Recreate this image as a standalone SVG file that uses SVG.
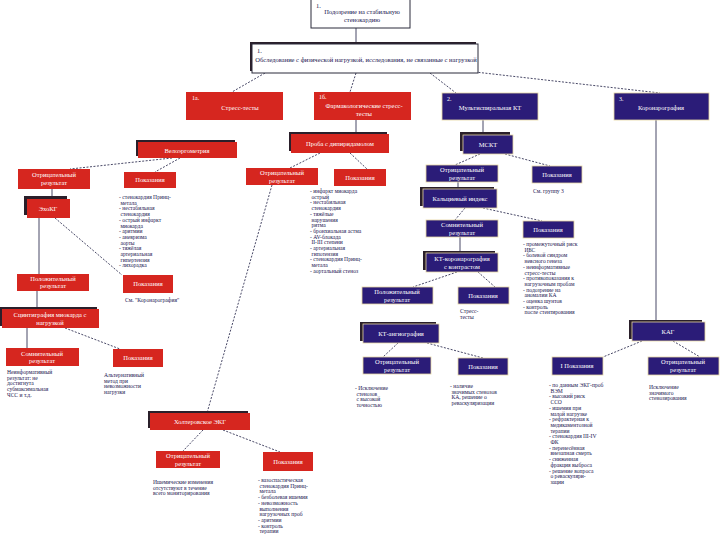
<svg xmlns="http://www.w3.org/2000/svg" width="720" height="540" viewBox="0 0 720 540">
<style>
.r{fill:#d6261f}
.b{fill:#2b1c78;stroke:#e6d6a0;stroke-width:0.8}
.w{fill:#fff;stroke:#2a2a3a;stroke-width:1}
.sh{fill:#2a1f2a}
.t{font-family:"Liberation Serif",serif;font-size:6.5px;fill:#fff;text-anchor:middle}
.tn{font-family:"Liberation Serif",serif;font-size:6px;fill:#fff}
.td{font-family:"Liberation Serif",serif;font-size:6.5px;fill:#1a1650;text-anchor:middle}
.l{font-family:"Liberation Serif",serif;font-size:5.6px;fill:#1a1650}
.c{stroke:#1a1a40;stroke-width:0.8;fill:none}
.d{stroke-dasharray:2 1.5}
</style>
<rect width="720" height="540" fill="#fff"/>
<g id="connectors">
<path class="c" d="M356 28V44M356 120V134M483 120V135M458 182V189M52 189V199M39 218V274M37 291V309M27 328V348M460 237V253M656 120V322"/>
<path class="c d" d="M265 73L232 92M356 73L350 92M430 73L456 93M475 72L660 93M172 158L70 169M180 158L155 172M55 218L122 275M65 328L120 349M320 153L290 168M350 153L367 169M272 185L207 413M203 430L183 451M223 430L280 452M480 154L455 165M505 154L550 166M465 208L455 220M483 208L542 221M457 272L413 287M478 272L495 287M398 343L383 357M427 343L483 358M642 341L603 357M673 341L700 357"/>
</g>
<g id="n1"><rect class="w" x="311" y="-1" width="99" height="29"/><text class="td" x="316" y="8" style="text-anchor:start">1.</text><text class="td" x="362" y="14">Подозрение на стабильную</text><text class="td" x="362" y="22">стенокардию</text></g>
<g id="n2"><rect class="sh" x="250" y="42" width="226" height="29"/><rect class="w" x="252" y="44" width="226" height="29"/><text class="td" x="257" y="53" style="text-anchor:start">1.</text><text class="td" x="366" y="62">Обследование с физической нагрузкой, исследования, не связанные с нагрузкой</text></g>
<g id="n3"><rect class="r" x="186" y="92" width="97" height="28"/><text class="tn" x="192" y="100">1а.</text><text class="t" x="240" y="110">Стресс-тесты</text></g>
<g id="n4"><rect class="r" x="314" y="92" width="97" height="28"/><text class="tn" x="319" y="99">1б.</text><text class="t" x="364" y="108">Фармакологические стресс-</text><text class="t" x="364" y="116">тесты</text></g>
<g id="n5"><rect class="b" x="442" y="93" width="96" height="27"/><text class="tn" x="447" y="101">2.</text><text class="t" x="490" y="110">Мультиспиральная КТ</text></g>
<g id="n6"><rect class="b" x="614" y="93" width="95" height="27"/><text class="tn" x="619" y="101">3.</text><text class="t" x="661" y="110">Коронарография</text></g>
<g id="n7"><rect class="sh" x="136" y="140" width="99" height="16"/><rect class="r" x="138" y="142" width="99" height="16"/><text class="t" x="187" y="152.5">Велоэргометрия</text></g>
<g id="n8"><rect class="r" x="18" y="169" width="72" height="20"/><text class="t" x="54" y="177">Отрицательный</text><text class="t" x="54" y="185">результат</text></g>
<g id="n9"><rect class="r" x="124" y="172" width="52" height="16"/><text class="t" x="150" y="182">Показания</text></g>
<g id="n10"><rect class="sh" x="24" y="196" width="43" height="19"/><rect class="r" x="27" y="199" width="43" height="19"/><text class="t" x="48" y="211">ЭхоКГ</text></g>
<g id="n11"><rect class="r" x="17" y="274" width="72" height="17"/><text class="t" x="53" y="281">Положительный</text><text class="t" x="53" y="288">результат</text></g>
<g id="n12"><rect class="r" x="123" y="275" width="50" height="18"/><text class="t" x="148" y="286">Показания</text></g>
<g id="n13"><rect class="sh" x="0" y="307" width="97" height="19"/><rect class="r" x="2" y="309" width="97" height="19"/><text class="t" x="50" y="317">Сцинтиграфия миокарда с</text><text class="t" x="50" y="325">нагрузкой</text></g>
<g id="n14"><rect class="r" x="6" y="348" width="73" height="18"/><text class="t" x="42" y="355.5">Сомнительный</text><text class="t" x="42" y="363">результат</text></g>
<g id="n15"><rect class="r" x="113" y="349" width="50" height="18"/><text class="t" x="138" y="360">Показания</text></g>
<g id="n16"><rect class="sh" x="289" y="132" width="98" height="19"/><rect class="r" x="291" y="134" width="98" height="19"/><text class="t" x="340" y="146">Проба с дипиридамолом</text></g>
<g id="n17"><rect class="r" x="246" y="168" width="72" height="17"/><text class="t" x="282" y="175">Отрицательный</text><text class="t" x="282" y="182.5">результат</text></g>
<g id="n18"><rect class="r" x="334" y="169" width="52" height="17"/><text class="t" x="360" y="179.5">Показания</text></g>
<g id="n19"><rect class="sh" x="148" y="411" width="100" height="17"/><rect class="r" x="150" y="413" width="100" height="17"/><text class="t" x="200" y="424">Холтеровское ЭКГ</text></g>
<g id="n20"><rect class="r" x="156" y="451" width="64" height="17"/><text class="t" x="188" y="458">Отрицательный</text><text class="t" x="188" y="465.5">результат</text></g>
<g id="n21"><rect class="r" x="263" y="452" width="50" height="19"/><text class="t" x="288" y="464">Показания</text></g>
<g id="n22"><rect class="sh" x="460" y="132" width="50" height="19"/><rect class="b" x="463" y="135" width="50" height="19"/><text class="t" x="488" y="147">МСКТ</text></g>
<g id="n23"><rect class="b" x="426" y="165" width="72" height="17"/><text class="t" x="462" y="172">Отрицательный</text><text class="t" x="462" y="179.5">результат</text></g>
<g id="n24"><rect class="b" x="532" y="166" width="50" height="17"/><text class="t" x="557" y="176.5">Показания</text></g>
<g id="n25"><rect class="sh" x="420" y="187" width="74" height="19"/><rect class="b" x="423" y="189" width="74" height="19"/><text class="t" x="460" y="201">Кальциевый индекс</text></g>
<g id="n26"><rect class="b" x="426" y="220" width="72" height="17"/><text class="t" x="462" y="227">Сомнительный</text><text class="t" x="462" y="234.5">результат</text></g>
<g id="n27"><rect class="b" x="523" y="221" width="51" height="17"/><text class="t" x="548" y="231.5">Показания</text></g>
<g id="n28"><rect class="sh" x="423" y="251" width="72" height="19"/><rect class="b" x="426" y="253" width="72" height="19"/><text class="t" x="462" y="261">КТ-коронарография</text><text class="t" x="462" y="268.5">с контрастом</text></g>
<g id="n29"><rect class="b" x="362" y="287" width="71" height="17"/><text class="t" x="397" y="294">Положительный</text><text class="t" x="397" y="301.5">результат</text></g>
<g id="n30"><rect class="b" x="458" y="287" width="51" height="17"/><text class="t" x="483" y="297.5">Показания</text></g>
<g id="n31"><rect class="sh" x="360" y="322" width="76" height="19"/><rect class="b" x="363" y="324" width="76" height="19"/><text class="t" x="401" y="336">КТ-ангиография</text></g>
<g id="n32"><rect class="b" x="363" y="357" width="68" height="17"/><text class="t" x="397" y="364">Отрицательный</text><text class="t" x="397" y="371.5">результат</text></g>
<g id="n33"><rect class="b" x="458" y="358" width="50" height="17"/><text class="t" x="483" y="368.5">Показания</text></g>
<g id="n34"><rect class="sh" x="629" y="320" width="73" height="19"/><rect class="b" x="632" y="322" width="73" height="19"/><text class="t" x="668" y="334">КАГ</text></g>
<g id="n35"><rect class="b" x="552" y="357" width="51" height="18"/><text class="t" x="577" y="368">I Показания</text></g>
<g id="n36"><rect class="b" x="648" y="357" width="71" height="18"/><text class="t" x="683" y="364">Отрицательный</text><text class="t" x="683" y="371.5">результат</text></g>
<g id="notes">
<text class="l" x="119" y="199"><tspan x="119">- стенокардия Принц-</tspan><tspan x="119" dy="5.7">  метала</tspan><tspan x="119" dy="5.7">- нестабильная</tspan><tspan x="119" dy="5.7">  стенокардия</tspan><tspan x="119" dy="5.7">- острый инфаркт</tspan><tspan x="119" dy="5.7">  миокарда</tspan><tspan x="119" dy="5.7">- аритмии</tspan><tspan x="119" dy="5.7">- аневризма</tspan><tspan x="119" dy="5.7">  аорты</tspan><tspan x="119" dy="5.7">- тяжёлая</tspan><tspan x="119" dy="5.7">  артериальная</tspan><tspan x="119" dy="5.7">  гипертензия</tspan><tspan x="119" dy="5.7">- лихорадка</tspan></text>
<text class="l" x="125" y="302">См. "Коронарография"</text>
<text class="l" x="7" y="374"><tspan x="7">Неинформативный</tspan><tspan x="7" dy="5.7">результат: не</tspan><tspan x="7" dy="5.7">достигнута</tspan><tspan x="7" dy="5.7">субмаксимальная</tspan><tspan x="7" dy="5.7">ЧСС и т.д.</tspan></text>
<text class="l" x="104" y="377"><tspan x="104">Альтернативный</tspan><tspan x="104" dy="5.7">метод при</tspan><tspan x="104" dy="5.7">невозможности</tspan><tspan x="104" dy="5.7">нагрузки</tspan></text>
<text class="l" x="310" y="193"><tspan x="310">- инфаркт миокарда</tspan><tspan x="310" dy="5.7">  острый</tspan><tspan x="310" dy="5.7">- нестабильная</tspan><tspan x="310" dy="5.7">  стенокардия</tspan><tspan x="310" dy="5.7">- тяжёлые</tspan><tspan x="310" dy="5.7">  нарушения</tspan><tspan x="310" dy="5.7">  ритма</tspan><tspan x="310" dy="5.7">- бронхиальная астма</tspan><tspan x="310" dy="5.7">- AV-блокада</tspan><tspan x="310" dy="5.7">  II-III степени</tspan><tspan x="310" dy="5.7">- артериальная</tspan><tspan x="310" dy="5.7">  гипотензия</tspan><tspan x="310" dy="5.7">- стенокардия Принц-</tspan><tspan x="310" dy="5.7">  метала</tspan><tspan x="310" dy="5.7">- аортальный стеноз</tspan></text>
<text class="l" x="153" y="484"><tspan x="153">Ишемические изменения</tspan><tspan x="153" dy="5.7">отсутствуют в течение</tspan><tspan x="153" dy="5.7">всего мониторирования</tspan></text>
<text class="l" x="258" y="482"><tspan x="258">- вазоспастическая</tspan><tspan x="258" dy="5.7">  стенокардия Принц-</tspan><tspan x="258" dy="5.7">  метала</tspan><tspan x="258" dy="5.7">- безболевая ишемия</tspan><tspan x="258" dy="5.7">- невозможность</tspan><tspan x="258" dy="5.7">  выполнения</tspan><tspan x="258" dy="5.7">  нагрузочных проб</tspan><tspan x="258" dy="5.7">- аритмии</tspan><tspan x="258" dy="5.7">- контроль</tspan><tspan x="258" dy="5.7">  терапии</tspan></text>
<text class="l" x="533" y="193">См. группу 3</text>
<text class="l" x="523" y="246"><tspan x="523">- промежуточный риск</tspan><tspan x="523" dy="5.7">  ИБС</tspan><tspan x="523" dy="5.7">- болевой синдром</tspan><tspan x="523" dy="5.7">  неясного генеза</tspan><tspan x="523" dy="5.7">- неинформативные</tspan><tspan x="523" dy="5.7">  стресс-тесты</tspan><tspan x="523" dy="5.7">- противопоказания к</tspan><tspan x="523" dy="5.7">  нагрузочным пробам</tspan><tspan x="523" dy="5.7">- подозрение на</tspan><tspan x="523" dy="5.7">  аномалии КА</tspan><tspan x="523" dy="5.7">- оценка шунтов</tspan><tspan x="523" dy="5.7">- контроль</tspan><tspan x="523" dy="5.7">  после стентирования</tspan></text>
<text class="l" x="460" y="313"><tspan x="460">Стресс-</tspan><tspan x="460" dy="5.7">тесты</tspan></text>
<text class="l" x="355" y="390"><tspan x="355">- Исключение</tspan><tspan x="355" dy="5.7">  стенозов</tspan><tspan x="355" dy="5.7">  с высокой</tspan><tspan x="355" dy="5.7">  точностью</tspan></text>
<text class="l" x="450" y="388"><tspan x="450">- наличие</tspan><tspan x="450" dy="5.7">  значимых стенозов</tspan><tspan x="450" dy="5.7">  КА, решение о</tspan><tspan x="450" dy="5.7">  реваскуляризации</tspan></text>
<text class="l" x="549" y="387"><tspan x="549">- по данным ЭКГ-проб</tspan><tspan x="549" dy="5.7">  ВЭМ</tspan><tspan x="549" dy="5.7">- высокий риск</tspan><tspan x="549" dy="5.7">  ССО</tspan><tspan x="549" dy="5.7">- ишемия при</tspan><tspan x="549" dy="5.7">  малой нагрузке</tspan><tspan x="549" dy="5.7">- рефрактерная к</tspan><tspan x="549" dy="5.7">  медикаментозной</tspan><tspan x="549" dy="5.7">  терапии</tspan><tspan x="549" dy="5.7">- стенокардия III-IV</tspan><tspan x="549" dy="5.7">  ФК</tspan><tspan x="549" dy="5.7">- перенесённая</tspan><tspan x="549" dy="5.7">  внезапная смерть</tspan><tspan x="549" dy="5.7">- сниженная</tspan><tspan x="549" dy="5.7">  фракция выброса</tspan><tspan x="549" dy="5.7">- решение вопроса</tspan><tspan x="549" dy="5.7">  о реваскуляри-</tspan><tspan x="549" dy="5.7">  зации</tspan></text>
<text class="l" x="649" y="389"><tspan x="649">Исключение</tspan><tspan x="649" dy="5.7">значимого</tspan><tspan x="649" dy="5.7">стенозирования</tspan></text>
</g>
</svg>
